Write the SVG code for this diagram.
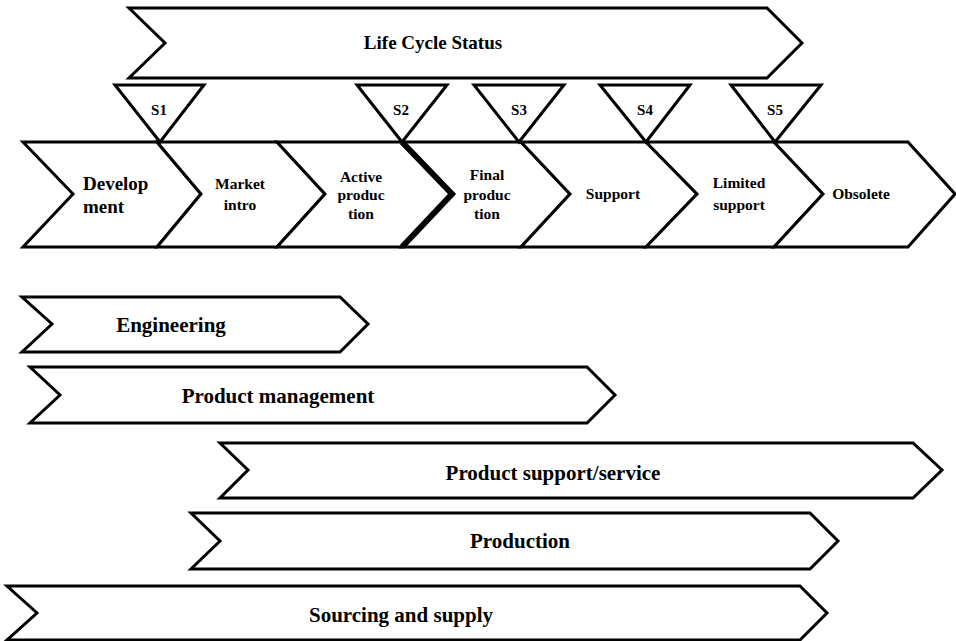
<svg xmlns="http://www.w3.org/2000/svg" width="956" height="641" viewBox="0 0 956 641">
<style>
.s{fill:#fff;stroke:#000;stroke-width:3;stroke-linejoin:miter}
.t{font-family:"Liberation Serif","Times New Roman",serif;font-weight:bold;fill:#000;text-anchor:middle}
.big{font-size:19px}
.mid{font-size:15.5px}
.lab{font-size:15px}
.bar{font-size:21px}
</style>
<rect width="956" height="641" fill="#fff"/>
<g id="lifecycle">
<polygon class="s" points="129,8 767,8 802,43 767,78 129,78 165,43"/>
<text class="t big" x="433" y="49">Life Cycle Status</text>
</g>
<g id="stages">
<g id="development">
<polygon class="s" points="23,142 157,142 201,194 157,247 23,247 73,194"/>
<text class="t" x="83" y="190" style="font-size:19px;text-anchor:start">Develop</text>
<text class="t" x="83" y="213" style="font-size:19px;text-anchor:start">ment</text>
</g>
<g id="market-intro">
<polygon class="s" points="157,142 277,142 325,194 277,247 157,247 201,194"/>
<text class="t mid" x="240" y="189">Market</text>
<text class="t mid" x="240" y="210">intro</text>
</g>
<g id="active-production">
<polygon class="s" points="277,142 402,142 452,194 402,247 277,247 325,194"/>
<text class="t mid" x="361" y="182">Active</text>
<text class="t mid" x="361" y="200">produc</text>
<text class="t mid" x="361" y="219">tion</text>
</g>
<g id="final-production">
<polygon class="s" points="402,142 521,142 570,194 521,247 402,247 452,194"/>
<text class="t mid" x="487" y="180">Final</text>
<text class="t mid" x="487" y="200">produc</text>
<text class="t mid" x="487" y="219">tion</text>
</g>
<g id="support">
<polygon class="s" points="521,142 646,142 697,194 646,247 521,247 570,194"/>
<text class="t mid" x="613" y="199">Support</text>
</g>
<g id="limited-support">
<polygon class="s" points="646,142 774,142 823,194 774,247 646,247 697,194"/>
<text class="t mid" x="739" y="188">Limited</text>
<text class="t mid" x="739" y="210">support</text>
</g>
<g id="obsolete">
<polygon class="s" points="774,142 908,142 955,194 908,247 774,247 823,194"/>
<text class="t mid" x="861" y="199">Obsolete</text>
</g>
</g>
<g id="connectors">
<polyline points="402,142 452,194 402,247" fill="none" stroke="#000" stroke-width="6" stroke-linejoin="miter"/>
</g>
<g id="milestones">
<g id="s1"><polygon class="s" points="115,85 204,85 160,142"/><text class="t lab" x="159" y="115">S1</text></g>
<g id="s2"><polygon class="s" points="357,85 447,85 402,142"/><text class="t lab" x="401" y="115">S2</text></g>
<g id="s3"><polygon class="s" points="474,85 564,85 519,142"/><text class="t lab" x="519" y="115">S3</text></g>
<g id="s4"><polygon class="s" points="600,85 690,85 646,142"/><text class="t lab" x="645" y="115">S4</text></g>
<g id="s5"><polygon class="s" points="731,85 821,85 775,142"/><text class="t lab" x="775" y="115">S5</text></g>
</g>
<g id="engineering">
<polygon class="s" points="22,297 340,297 368,324 340,352 22,352 52,324"/>
<text class="t bar" x="171" y="332">Engineering</text>
</g>
<g id="product-management">
<polygon class="s" points="30,367 587,367 615,395 587,423 30,423 60,395"/>
<text class="t bar" x="278" y="403">Product management</text>
</g>
<g id="product-support">
<polygon class="s" points="220,443 913,443 942,470 913,498 220,498 248,470"/>
<text class="t bar" x="553" y="480">Product support/service</text>
</g>
<g id="production">
<polygon class="s" points="191,513 810,513 838,541 810,569 191,569 220,541"/>
<text class="t bar" x="520" y="548">Production</text>
</g>
<g id="sourcing">
<polygon class="s" points="7,586 800,586 827,613 800,640 7,640 37,613"/>
<text class="t bar" x="401" y="622">Sourcing and supply</text>
</g>
</svg>
